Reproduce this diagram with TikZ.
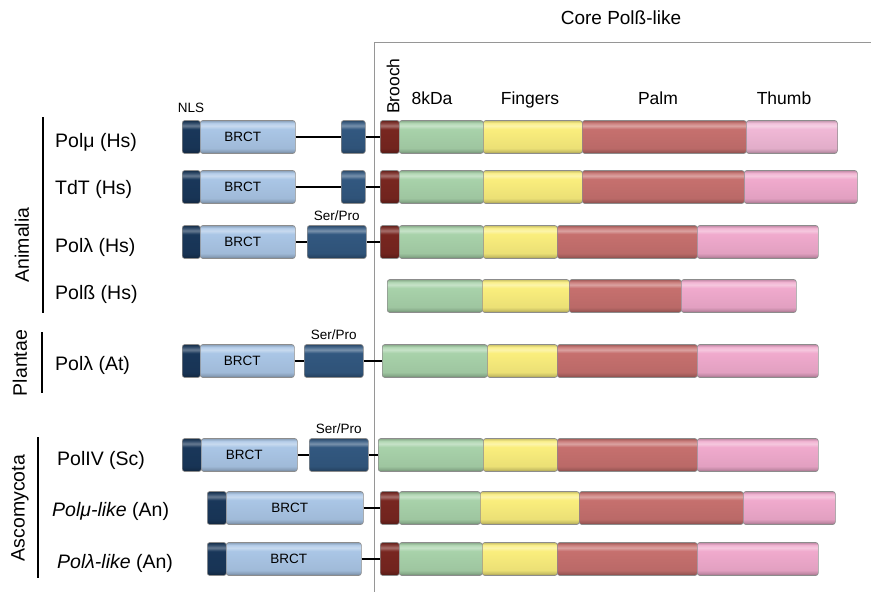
\documentclass[tikz,border=0pt]{standalone}
\usepackage{fontspec}
\setmainfont{Liberation Sans}
\definecolor{nlsc}{RGB}{25,55,90}
\definecolor{spc}{RGB}{50,88,128}
\definecolor{brctc}{RGB}{170,198,230}
\definecolor{broc}{RGB}{120,38,32}
\definecolor{kdac}{RGB}{168,210,170}
\definecolor{finc}{RGB}{250,238,125}
\definecolor{palc}{RGB}{198,112,110}
\definecolor{thuc}{RGB}{240,170,205}
\definecolor{thuone}{RGB}{240,184,214}
\definecolor{framec}{RGB}{150,150,150}
\colorlet{domc}{white}
\pgfdeclareverticalshading[domc]{bevel}{100bp}{color(0bp)=(domc!62!black); color(25bp)=(domc!62!black); color(28bp)=(domc!80!black); color(33bp)=(domc!94!black); color(62bp)=(domc); color(67bp)=(domc!65!white); color(71bp)=(domc!88!white); color(75bp)=(domc!80!black); color(100bp)=(domc!80!black)}
\tikzset{
  dom/.style={rectangle, rounded corners=2.5pt, draw=black!45, line width=0.6pt,
    minimum height=33pt, inner sep=0pt, anchor=west,
    /utils/exec={\colorlet{domc}{#1}}, shade, shading=bevel},
  conn/.style={draw=black, line width=1.3pt},
  grp/.style={draw=black, line width=1.5pt},
  frame/.style={draw=framec, line width=1pt},
  hdr/.style={font=\fontsize{17.5}{20}\selectfont, anchor=base, inner sep=0pt},
  lbl/.style={font=\fontsize{19.5}{22}\selectfont, anchor=base west, inner sep=0pt},
  grplbl/.style={font=\fontsize{19.5}{22}\selectfont, rotate=90, inner sep=0pt},
  small/.style={font=\fontsize{13.5}{16}\selectfont, anchor=base, inner sep=0pt},
  intext/.style={font=\fontsize{13.5}{16}\selectfont}
}
\newcommand{\pdom}[6]{\node[dom=#2, minimum width={(#4-#3)*1pt}] (#1) at (#3,#5) {#6};}
\newcommand{\brcttext}{\hspace*{-10pt}\fontsize{13.5}{16}\selectfont BRCT}
\begin{document}
\begin{tikzpicture}[x=1pt,y=-1pt]
\useasboundingbox (0,0) rectangle (871,592);
% frame of the core
\coordinate (fbot) at (374,592);
\coordinate (fcorner) at (374,42);
\coordinate (fright) at (871,42);
\draw[frame] (fbot) -- (fcorner) -- (fright);
\node[hdr, font=\fontsize{19}{22}\selectfont] (core) at (621,24) {Core Polß-like};
% headers
\node[hdr] (h8) at (432,104.5) {8kDa};
\node[hdr] (hf) at (530,104.5) {Fingers};
\node[hdr] (hp) at (658,104.5) {Palm};
\node[hdr] (ht) at (784,104.5) {Thumb};
\node[font=\fontsize{17.5}{20}\selectfont, rotate=90, anchor=west, inner sep=0pt] (hb) at (393,114) {Brooch};
\node[small] (hnls) at (191,112.5) {NLS};
% Row 1 Polmu
\pdom{a1}{nlsc}{182}{200}{137}{}
\pdom{b1}{brctc}{200}{295}{137}{\brcttext}
\pdom{s1}{spc}{341}{365}{137}{}
\pdom{c1}{broc}{380}{399}{137}{}
\pdom{d1}{kdac}{399}{483}{137}{}
\pdom{e1}{finc}{483}{582}{137}{}
\pdom{f1}{palc}{582}{746}{137}{}
\pdom{g1}{thuone}{746}{837}{137}{}
\draw[conn] (b1.east) -- (s1.west);
\draw[conn] (s1.east) -- (c1.west);
% Row 2 TdT
\pdom{a2}{nlsc}{182}{200}{187}{}
\pdom{b2}{brctc}{200}{295}{187}{\brcttext}
\pdom{s2}{spc}{341}{365}{187}{}
\pdom{c2}{broc}{380}{399}{187}{}
\pdom{d2}{kdac}{399}{483}{187}{}
\pdom{e2}{finc}{483}{582}{187}{}
\pdom{f2}{palc}{582}{744}{187}{}
\pdom{g2}{thuc}{744}{857}{187}{}
\draw[conn] (b2.east) -- (s2.west);
\draw[conn] (s2.east) -- (c2.west);
% Row 3 Pollambda Hs
\pdom{a3}{nlsc}{182}{200}{242}{}
\pdom{b3}{brctc}{200}{295}{242}{\brcttext}
\pdom{s3}{spc}{307}{366}{242}{}
\pdom{c3}{broc}{380}{399}{242}{}
\pdom{d3}{kdac}{399}{483}{242}{}
\pdom{e3}{finc}{483}{557}{242}{}
\pdom{f3}{palc}{557}{697}{242}{}
\pdom{g3}{thuc}{697}{818}{242}{}
\draw[conn] (b3.east) -- (s3.west);
\draw[conn] (s3.east) -- (c3.west);
\node[small] (sp3) at (s3.north) [yshift=5pt] {Ser/Pro};
% Row 4 Polbeta
\pdom{d4}{kdac}{387}{482}{296}{}
\pdom{e4}{finc}{482}{569}{296}{}
\pdom{f4}{palc}{569}{681}{296}{}
\pdom{g4}{thuc}{681}{796}{296}{}
% Row 5 Pollambda At
\pdom{a5}{nlsc}{182}{200}{361}{}
\pdom{b5}{brctc}{200}{294}{361}{\brcttext}
\pdom{s5}{spc}{304}{363}{361}{}
\pdom{d5}{kdac}{382}{487}{361}{}
\pdom{e5}{finc}{487}{557}{361}{}
\pdom{f5}{palc}{557}{697}{361}{}
\pdom{g5}{thuc}{697}{818}{361}{}
\draw[conn] (b5.east) -- (s5.west);
\draw[conn] (s5.east) -- (d5.west);
\node[small] (sp5) at (s5.north) [yshift=5pt] {Ser/Pro};
% Row 6 PolIV
\pdom{a6}{nlsc}{182}{201}{455}{}
\pdom{b6}{brctc}{201}{297}{455}{\brcttext}
\pdom{s6}{spc}{309}{368}{455}{}
\pdom{d6}{kdac}{378}{483}{455}{}
\pdom{e6}{finc}{483}{557}{455}{}
\pdom{f6}{palc}{557}{697}{455}{}
\pdom{g6}{thuc}{697}{818}{455}{}
\draw[conn] (b6.east) -- (s6.west);
\draw[conn] (s6.east) -- (d6.west);
\node[small] (sp6) at (s6.north) [yshift=5pt] {Ser/Pro};
% Row 7 Polmu-like
\pdom{a7}{nlsc}{207}{226}{508}{}
\pdom{b7}{brctc}{226}{363}{508}{\brcttext}
\pdom{c7}{broc}{380}{399}{508}{}
\pdom{d7}{kdac}{399}{480}{508}{}
\pdom{e7}{finc}{480}{579}{508}{}
\pdom{f7}{palc}{579}{743}{508}{}
\pdom{g7}{thuc}{743}{835}{508}{}
\draw[conn] (b7.east) -- (c7.west);
% Row 8 Pollambda-like
\pdom{a8}{nlsc}{207}{226}{559}{}
\pdom{b8}{brctc}{226}{361}{559}{\brcttext}
\pdom{c8}{broc}{380}{399}{559}{}
\pdom{d8}{kdac}{399}{482}{559}{}
\pdom{e8}{finc}{482}{557}{559}{}
\pdom{f8}{palc}{557}{697}{559}{}
\pdom{g8}{thuc}{697}{818}{559}{}
\draw[conn] (b8.east) -- (c8.west);
% row labels
\node[lbl] (l1) at (55,147) {Polμ (Hs)};
\node[lbl] (l2) at (55,194) {TdT (Hs)};
\node[lbl] (l3) at (55,252) {Polλ (Hs)};
\node[lbl] (l4) at (55,299) {Polß (Hs)};
\node[lbl] (l5) at (55,370) {Polλ (At)};
\node[lbl] (l6) at (57,465) {PolIV (Sc)};
\node[lbl] (l7) at (52,516) {{\itshape Polμ-like} (An)};
\node[lbl] (l8) at (57,568) {{\itshape Polλ-like} (An)};
% groups
\coordinate (ga1) at (43,117); \coordinate (ga2) at (43,313);
\coordinate (gp1) at (42,332); \coordinate (gp2) at (42,393);
\coordinate (gc1) at (38,437); \coordinate (gc2) at (38,578);
\draw[grp] (ga1) -- (ga2);
\draw[grp] (gp1) -- (gp2);
\draw[grp] (gc1) -- (gc2);
\node[grplbl] (gan) at (22,245) {Animalia};
\node[grplbl] (gpl) at (20,363) {Plantae};
\node[grplbl] (gas) at (20,508) {Ascomycota};
\end{tikzpicture}
\end{document}
